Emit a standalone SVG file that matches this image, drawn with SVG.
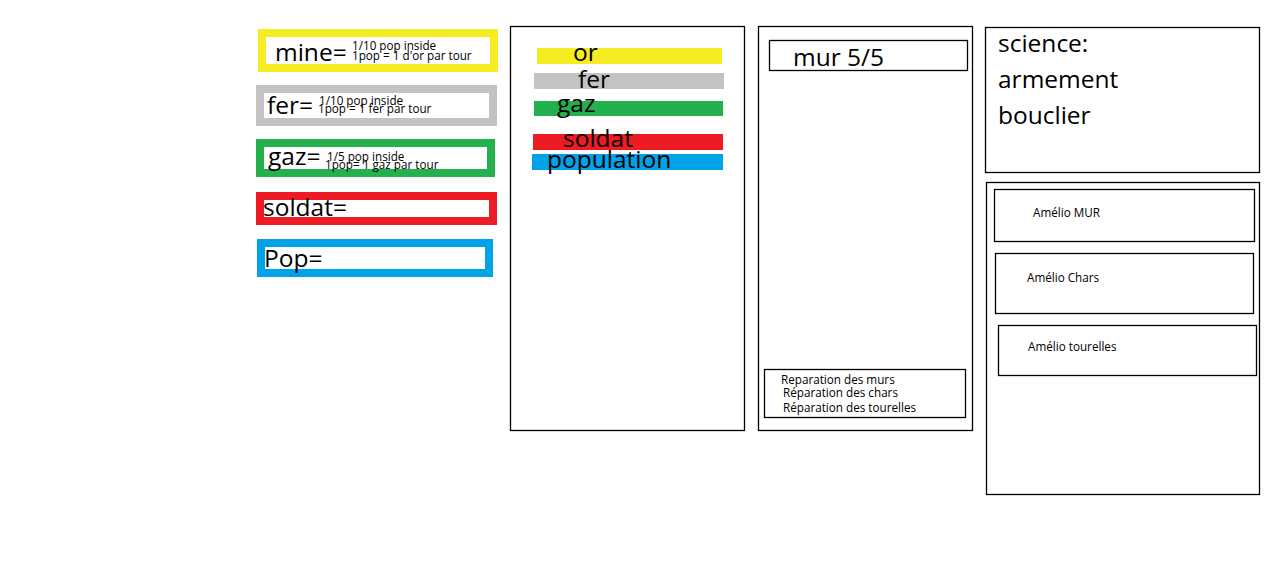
<svg xmlns="http://www.w3.org/2000/svg" width="1280" height="572" viewBox="0 0 1280 572">
<style>
.box{fill:#fff;stroke:#000;stroke-width:1.3}
.res{fill:#fff;stroke-width:8}
.big{font-family:"Open Sans","Noto Sans","DejaVu Sans",sans-serif;font-size:24.5px;fill:#000}
.sm{font-family:"Open Sans","Noto Sans","DejaVu Sans",sans-serif;font-size:11.7px;fill:#000}
</style>
<rect width="1280" height="572" fill="#fff"/>
<g id="mine">
<rect class="res" x="262" y="33" width="232" height="35" stroke="#f5ec22"/>
<text class="big" x="275" y="61">mine=</text>
<text class="sm" x="352" y="50">1/10 pop inside</text>
<text class="sm" x="352" y="60">1pop = 1 d'or par tour</text>
</g>
<g id="fer">
<rect class="res" x="260" y="89" width="233" height="33" stroke="#c3c3c3"/>
<text class="big" x="267" y="114">fer=</text>
<text class="sm" x="319" y="105">1/10 pop inside</text>
<text class="sm" x="318" y="113">1pop = 1 fer par tour</text>
</g>
<g id="gaz">
<rect class="res" x="260" y="143" width="231" height="30" stroke="#22b14c"/>
<text class="big" x="268" y="165">gaz=</text>
<text class="sm" x="327" y="161">1/5 pop inside</text>
<text class="sm" x="325" y="169">1pop= 1 gaz par tour</text>
</g>
<g id="soldat">
<rect class="res" x="260" y="196" width="233" height="25" stroke="#ed1c24"/>
<text class="big" x="263" y="216">soldat=</text>
</g>
<g id="pop">
<rect class="res" x="261" y="243" width="228" height="30" stroke="#00a2e8"/>
<text class="big" x="264" y="267">Pop=</text>
</g>
<g id="ressources">
<rect class="box" x="510.5" y="26.5" width="234" height="404"/>
<rect x="537" y="48" width="185" height="16" fill="#f5ec22"/>
<rect x="534" y="73" width="190" height="16" fill="#c3c3c3"/>
<rect x="534" y="101" width="189" height="15" fill="#22b14c"/>
<rect x="533" y="134" width="190" height="16" fill="#ed1c24"/>
<rect x="532" y="154" width="191" height="16" fill="#00a2e8"/>
<text class="big" x="573" y="61">or</text>
<text class="big" x="578" y="88">fer</text>
<text class="big" x="557" y="112">gaz</text>
<text class="big" x="563" y="147">soldat</text>
<text class="big" x="547" y="168">population</text>
</g>
<g id="defense">
<rect class="box" x="758.5" y="26.5" width="214" height="404"/>
<rect class="box" x="769.5" y="40.5" width="198" height="30"/>
<text class="big" x="793" y="66">mur 5/5</text>
<rect class="box" x="764.5" y="369.5" width="201" height="48"/>
<text class="sm" x="781" y="384">Reparation des murs</text>
<text class="sm" x="783" y="397">Réparation des chars</text>
<text class="sm" x="783" y="412">Réparation des tourelles</text>
</g>
<g id="science">
<rect class="box" x="985.5" y="27.5" width="274" height="145"/>
<text class="big" x="998" y="52">science:</text>
<text class="big" x="998" y="88">armement</text>
<text class="big" x="998" y="124">bouclier</text>
</g>
<g id="amelio">
<rect class="box" x="986.5" y="182.5" width="273" height="312"/>
<rect class="box" x="994.5" y="189.5" width="260" height="52"/>
<text class="sm" x="1033" y="217">Amélio MUR</text>
<rect class="box" x="995.5" y="253.5" width="258" height="60"/>
<text class="sm" x="1027" y="282">Amélio Chars</text>
<rect class="box" x="998.5" y="325.5" width="258" height="50"/>
<text class="sm" x="1028" y="351">Amélio tourelles</text>
</g>
<g id="connectors"/>
</svg>
